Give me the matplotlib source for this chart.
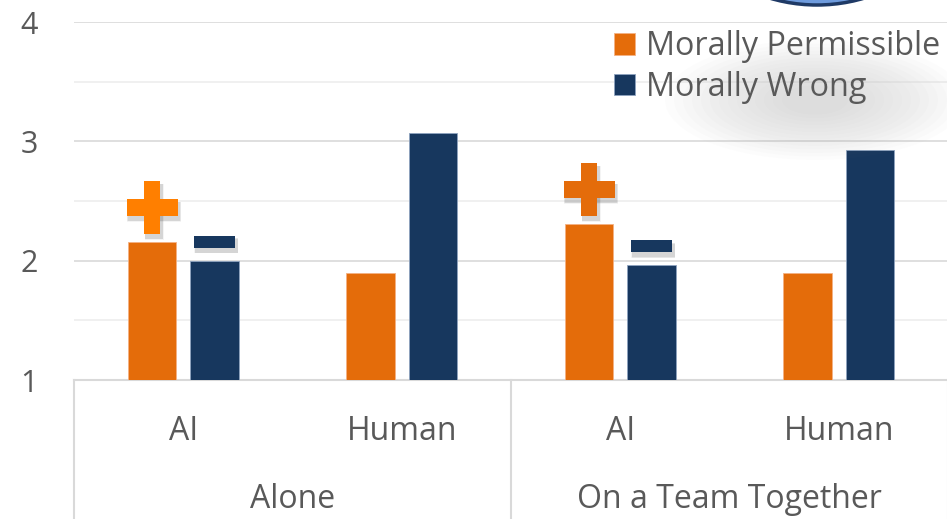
import matplotlib
matplotlib.use("Agg")
import matplotlib.pyplot as plt
from matplotlib.patches import Rectangle, Ellipse
import numpy as np

plt.rcParams['font.family'] = ['Open Sans', 'DejaVu Sans']

groups = ["Alone", "On a Team Together"]
agents = ["AI", "Human", "AI", "Human"]
permissible = [2.16, 1.90, 2.31, 1.90]
wrong = [2.00, 3.07, 1.96, 2.93]
perm_marks = ["+", None, "+", None]
wrong_marks = ["-", None, "-", None]
yticks = [1, 2, 3, 4]
series_labels = ["Morally Permissible", "Morally Wrong"]

ORANGE = "#E46C0A"
NAVY = "#17375E"
TXT = "#595959"
FS = 23

W, H = 947, 519
fig = plt.figure(figsize=(W / 100, H / 100), dpi=100)
ax_left, ax_right = 74 / W, 948 / W
ax_bot, ax_top = 1 - 380 / H, 1 - 22 / H
ax = fig.add_axes([ax_left, ax_bot, ax_right - ax_left, ax_top - ax_bot])

x = np.arange(len(agents))
bw = 0.224
off = 0.143
ax.set_xlim(-0.5, 3.5)
ax.set_ylim(1, 4)

# gridlines
for v in [1.5, 2.5, 3.5]:
    ax.axhline(v, color="#EEEEEE", lw=1.2, zorder=0)
for v in [2, 3, 4]:
    ax.axhline(v, color="#D9D9D9", lw=1.2, zorder=0)

ax.bar(x - off, permissible, bw, color=ORANGE, edgecolor="#F4B183", lw=0.6,
       label=series_labels[0], zorder=2)
ax.bar(x + off, wrong, bw, color=NAVY, edgecolor="#8EA3BF", lw=0.6,
       label=series_labels[1], zorder=2)

# pixel->data scales
pxx = 4 / (ax_right - ax_left) / W
pxy = 3 / (ax_top - ax_bot) / H


def shadow(cx, cy, wpx, hpx):
    for k, a in [(5, 0.06), (4, 0.08), (3, 0.10)]:
        ax.add_patch(Rectangle((cx - wpx / 2 * pxx + 2 * pxx - k * pxx * 0.3,
                                cy - hpx / 2 * pxy - 4 * pxy - k * pxy * 0.3),
                               (wpx + k * 0.6) * pxx, (hpx + k * 0.6) * pxy,
                               color="#444444", alpha=a, lw=0, zorder=3))


def rect(cx, cy, wpx, hpx, color):
    ax.add_patch(Rectangle((cx - wpx / 2 * pxx, cy - hpx / 2 * pxy),
                           wpx * pxx, hpx * pxy, color=color, lw=0, zorder=4))


plus_colors = ["#FF7F00", None, ORANGE, None]
for i, m in enumerate(perm_marks):
    if m == "+":
        cx = x[i] - off
        cy = permissible[i] + 34 * pxy
        c = plus_colors[i]
        shadow(cx, cy, 16, 53)
        shadow(cx, cy, 51, 17)
        rect(cx, cy, 16, 53, c)
        rect(cx, cy, 51, 17, c)
for i, m in enumerate(wrong_marks):
    if m == "-":
        cx = x[i] + off
        cy = wrong[i] + 19 * pxy
        shadow(cx, cy, 41, 12)
        rect(cx, cy, 41, 12, NAVY)

ax.set_yticks(yticks)
ax.set_yticklabels([str(t) for t in yticks], fontsize=FS - 1, color=TXT)
ax.tick_params(axis="y", length=0, pad=26)
ax.set_xticks([])
for s in ax.spines.values():
    s.set_visible(False)

# category axis
axis_y_bottom = -(H - 380) / H / (ax_top - ax_bot)
ax.plot([-0.5, 3.5], [0, 0], transform=ax.get_xaxis_transform(), color="#D9D9D9",
        lw=1.5, clip_on=False, zorder=1)
for xv in [-0.5, 1.5, 3.5]:
    ax.plot([xv, xv], [0, axis_y_bottom], transform=ax.get_xaxis_transform(),
            color="#D9D9D9", lw=1.5, clip_on=False)
ya = -(431 - 380) / H / (ax_top - ax_bot)
for i, a in enumerate(agents):
    ax.text(x[i], ya, a, transform=ax.get_xaxis_transform(), ha="center",
            va="center", fontsize=FS, color=TXT)
yg = -(500 - 380) / H / (ax_top - ax_bot)
for j, g in enumerate(groups):
    ax.text(2 * j + 0.5, yg, g, transform=ax.get_xaxis_transform(), ha="center",
            va="center", fontsize=FS, color=TXT)

# legend shadow glow
for k in range(14):
    fig.patches.append(Ellipse((815 / W, 1 - 100 / H), (300 - k * 18) / W,
                               (120 - k * 7) / H, transform=fig.transFigure,
                               color="#888888", alpha=0.02, lw=0, zorder=0))

# circle at top
fig.patches.append(Ellipse((817 / W, 1 + 161 / H), 332 / W, 332 / H,
                           transform=fig.transFigure, facecolor="#6E9BDD",
                           edgecolor="#1F3A66", lw=2.5, zorder=5))

leg = ax.legend(loc="upper right", bbox_to_anchor=(1.0, 1.0), frameon=False,
                fontsize=FS + 0.3, handlelength=0.66, handleheight=0.66,
                handletextpad=0.33, labelspacing=0.24, borderaxespad=0.05,
                borderpad=0.2)
for t in leg.get_texts():
    t.set_color(TXT)

fig.savefig("out.png", dpi=100)
